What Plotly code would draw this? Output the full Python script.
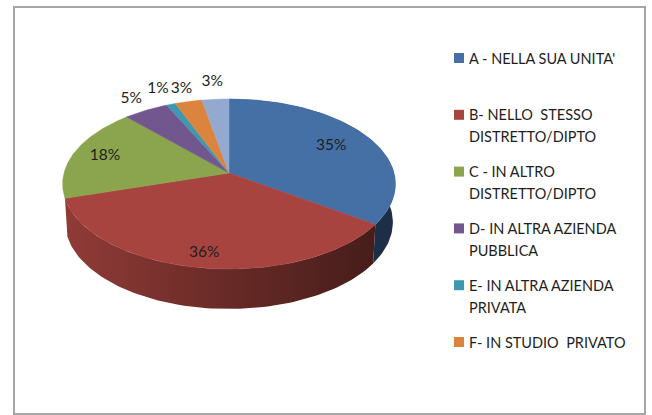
import numpy as np
import plotly.graph_objects as go

# Survey shares, in percent, clockwise from twelve o'clock
shares = [35, 36, 18, 5, 1, 3, 3]
share_labels = ["35%", "36%", "18%", "5%", "1%", "3%", "3%"]
slice_colors = ["#4470A6", "#A8443F", "#8AA54D", "#72578F", "#3F98AF", "#DC843D", "#93A9D0"]

# Legend entries, one list of lines per entry
legend_lines = [
    ["A - NELLA SUA UNITA'"],
    ["B- NELLO  STESSO", "DISTRETTO/DIPTO"],
    ["C - IN ALTRO", "DISTRETTO/DIPTO"],
    ["D- IN ALTRA AZIENDA", "PUBBLICA"],
    ["E- IN ALTRA AZIENDA", "PRIVATA"],
    ["F- IN STUDIO  PRIVATO"],
]

# Radial placement of each percentage, as a fraction of the pie radius
label_radius = [0.73, 0.86, 0.8, 1.2, 1.26, 1.2, 1.27]

# Projection of the unit disc onto the page (pixels)
CX, CY = 229.0, 173.0
RX, RY = 165.0, 83.6
PERSP = 0.1293
DEPTH = 38.0
BASE_SX, BASE_SY = 0.985, 1.02
RIM_SLICES = 2  # only the first two slices show their rim from this viewpoint

TEXT = "#1E1E1E"
FONT = "Lato"
LABEL_SIZE = 15.5
LEGEND_SIZE = 14.5


def project(theta, radius=1.0, base=False):
    """Map a clockwise-from-top angle (degrees) on the disc to page coordinates."""
    t = np.radians(theta)
    u, v = radius * np.sin(t), radius * np.cos(t)
    d = 1 + PERSP * v
    x, y = RX * u / d, -RY * v / d
    if base:
        return CX + BASE_SX * x, CY + DEPTH + BASE_SY * y
    return CX + x, CY + y


def shade(color, k):
    r, g, b = (int(color[i:i + 2], 16) for i in (1, 3, 5))
    return f"rgb({r * k:.0f},{g * k:.0f},{b * k:.0f})"


def rim_light(x):
    """Brightness of the rim, falling off from left to right."""
    return float(np.interp(x, [65, 229, 373, 396], [0.86, 0.62, 0.42, 0.42]))


edges = np.cumsum([0] + shares) / sum(shares) * 360.0
fig = go.Figure()

# Rim first, so that the top faces cover its far half
for i, color in enumerate(slice_colors[:RIM_SLICES]):
    th = np.linspace(edges[i], edges[i + 1], 90)
    x0, y0 = project(th)
    x1, y1 = project(th[::-1], base=True)
    xs = np.concatenate([x0, x1, x0[:1]])
    ys = np.concatenate([y0, y1, y0[:1]])
    lo, hi = xs.min(), xs.max()
    stops = [[p, shade(color, rim_light(lo + p * (hi - lo)))] for p in np.linspace(0, 1, 9)]
    fig.add_trace(go.Scatter(
        x=xs, y=ys, mode="lines", line=dict(width=0), fill="toself",
        fillgradient=dict(type="horizontal", colorscale=stops),
        hoverinfo="skip", showlegend=False,
    ))

# Top faces
for i, color in enumerate(slice_colors):
    th = np.linspace(edges[i], edges[i + 1], 120)
    x, y = project(th)
    fig.add_trace(go.Scatter(
        x=np.concatenate([[CX], x, [CX]]), y=np.concatenate([[CY], y, [CY]]),
        mode="lines", line=dict(width=0.5, color=color), fill="toself",
        fillcolor=color, hoverinfo="skip", showlegend=False,
    ))

# Percentage labels
mids = (edges[:-1] + edges[1:]) / 2
lx, ly = zip(*(project(m, r) for m, r in zip(mids, label_radius)))
fig.add_trace(go.Scatter(
    x=lx, y=ly, mode="text", text=share_labels, textposition="middle center",
    textfont=dict(family=FONT, size=LABEL_SIZE, color=TEXT),
    hoverinfo="skip", showlegend=False,
))

# Legend column
LEG_X, LEG_Y, LEG_STEP, LINE_STEP = 459.0, 58.0, 56.8, 22.0
fig.add_trace(go.Scatter(
    x=[LEG_X] * len(legend_lines),
    y=[LEG_Y + LEG_STEP * i for i in range(len(legend_lines))],
    mode="markers",
    marker=dict(symbol="square", size=10, color=slice_colors[:len(legend_lines)], line=dict(width=0)),
    hoverinfo="skip", showlegend=False,
))
for i, lines in enumerate(legend_lines):
    for j, line in enumerate(lines):
        fig.add_annotation(
            x=467, y=LEG_Y + LEG_STEP * i + LINE_STEP * j, text=line, showarrow=False,
            xanchor="left", yanchor="middle", align="left",
            font=dict(family=FONT, size=LEGEND_SIZE, color=TEXT),
        )

fig.update_layout(
    width=652, height=415, margin=dict(l=0, r=0, t=0, b=0),
    paper_bgcolor="white", plot_bgcolor="white", showlegend=False,
    xaxis=dict(range=[0, 652], visible=False, fixedrange=True),
    yaxis=dict(range=[415, 0], visible=False, fixedrange=True),
    shapes=[dict(type="rect", x0=14, y0=7, x1=645, y1=414,
                 line=dict(color="#A6A6A6", width=2), layer="below")],
)

fig.write_html("out.html")
